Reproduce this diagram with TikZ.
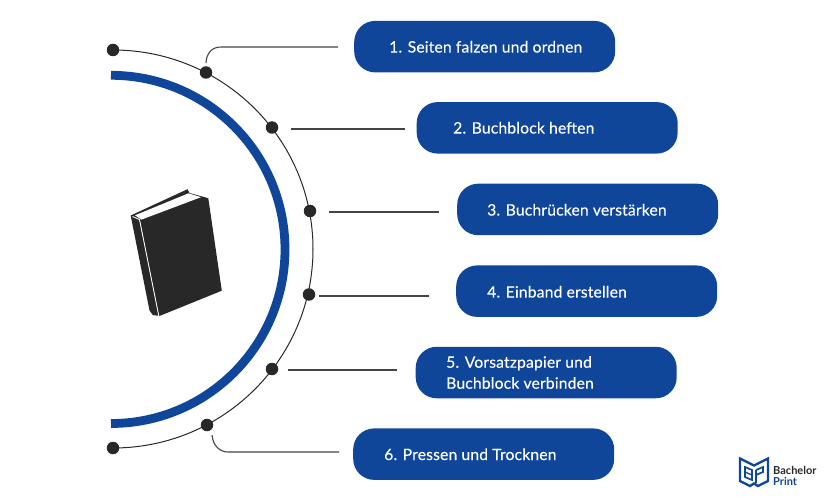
\documentclass[tikz,border=0pt]{standalone}
\usepackage{fontspec}
\setmainfont{Lato}
\definecolor{bpblue}{HTML}{104699}
\definecolor{bpdark}{HTML}{282828}
\definecolor{bpline}{HTML}{444444}
\tikzset{
  stepbox/.style={fill=bpblue,rounded corners=21pt,minimum width=261pt,minimum height=51.5pt,inner sep=0pt,anchor=north west},
  steptext/.style={text=white,font=\fontsize{15.7}{21}\selectfont\addfontfeatures{LetterSpace=1,FakeBold=0.15},align=left,anchor=west,inner sep=0pt},
  dot/.style={circle,fill=bpdark,minimum size=12.5pt,inner sep=0pt},
  leader/.style={draw=bpline,line width=1.1pt},
}
\begin{document}
\begin{tikzpicture}[x=1pt,y=-1pt]
\useasboundingbox (0,0) rectangle (825,500);
% arcs
\draw[bpblue,line width=8.8pt] (111,75.3) arc[start angle=-90,end angle=90,x radius=174,y radius=174.1];
\draw[bpdark,line width=1pt] (113,50) arc[start angle=-90,end angle=90,x radius=200,y radius=199];
% dots
\node[dot] (d0) at (113,50) {};
\node[dot] (d1) at (206,72.5) {};
\node[dot] (d2) at (272,127.5) {};
\node[dot] (d3) at (310,211) {};
\node[dot] (d4) at (309,294.5) {};
\node[dot] (d5) at (272,369) {};
\node[dot] (d6) at (207,425) {};
\node[dot] (d7) at (113,448) {};
% boxes
\node[stepbox] (b1) at (354,20.7) {};
\node[stepbox] (b2) at (416.5,101.9) {};
\node[stepbox] (b3) at (457,183.5) {};
\node[stepbox] (b4) at (456,265.2) {};
\node[stepbox] (b5) at (415.5,346.6) {};
\node[stepbox] (b6) at (353,428.2) {};
\node[steptext] (t1) at (389,46.8) {1. Seiten falzen und ordnen};
\node[steptext] (t2) at (453,127.8) {2. Buchblock heften};
\node[steptext] (t3) at (487,209.8) {3. Buchrücken verstärken};
\node[steptext] (t4) at (487,291.8) {4. Einband erstellen};
\node[steptext] (t5) at (446,372.5) {5. Vorsatzpapier und\\Buchblock verbinden};
\node[steptext] (t6) at (384,454.3) {6. Pressen und Trocknen};
% leaders
\coordinate (a1) at (206,63);  \coordinate (e1) at (338,47);
\coordinate (a2) at (291,129); \coordinate (e2) at (405,129);
\coordinate (a3) at (329,212); \coordinate (e3) at (439,212);
\coordinate (a4) at (319,296); \coordinate (e4) at (429,296);
\coordinate (a5) at (288,370); \coordinate (e5) at (397,370);
\coordinate (a6) at (212,435); \coordinate (e6) at (339,452);
\draw[leader] (a1) .. controls (206.5,53) and (212,47) .. (221,47) -- (e1);
\draw[leader] (a2) -- (e2);
\draw[leader] (a3) -- (e3);
\draw[leader] (a4) -- (e4);
\draw[leader] (a5) -- (e5);
\draw[leader] (a6) .. controls (213,446) and (220,452) .. (228,452) -- (e6);
% book
\fill[bpdark] (130.7,215.5) -- (187.5,189.2) -- (189.5,193) -- (208.3,198.2) -- (221.8,290.7) -- (160,315.8) -- (153,315.2) -- (149.5,310.5) -- cycle;
\fill[white] (135,215.3) -- (188.5,193.3) -- (201,197.2) -- (141.5,219.6) -- cycle;
\draw[white,line width=0.9pt] (132.5,216.5) -- (139.5,219.5) -- (158.8,315.8);
% logo
\begin{scope}[bpblue]
\draw[line width=2.4pt,line join=miter] (740,458.5) -- (754,465.5) -- (768,458.5) -- (768,481) -- (758,486) -- (754,483.5) -- (750,486) -- (740,481) -- cycle;
\draw[line width=1.7pt] (745,467) -- (752,470) -- (752,480) -- (745,477) -- cycle;
\draw[line width=1.7pt] (756,470) -- (763,467) -- (763,472) -- (756,475);
\draw[line width=1.7pt] (756,470) -- (756,483);
\draw[line width=1.3pt] (745,472) -- (752,475);
\end{scope}
\node[font=\fontsize{11}{12}\selectfont\bfseries,text=bpdark,anchor=west,inner sep=0pt] (l1) at (773,470.5) {Bachelor};
\node[font=\fontsize{11}{12}\selectfont\bfseries,text=bpblue,anchor=west,inner sep=0pt] (l2) at (773,481.5) {Print};
\end{tikzpicture}
\end{document}
